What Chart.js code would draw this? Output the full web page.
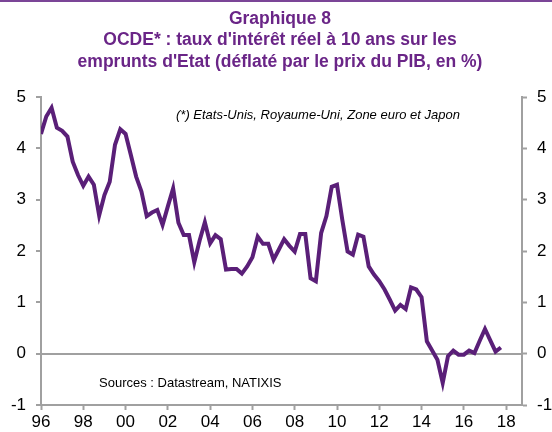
<!DOCTYPE html>
<html>
<head>
<meta charset="utf-8">
<script src="https://cdn.jsdelivr.net/npm/chart.js@4/dist/chart.umd.min.js"></script>
<style>
  html, body { margin: 0; padding: 0; background: #fff; }
  #wrap { width: 552px; height: 432px; }
</style>
</head>
<body>
<div id="wrap"><canvas id="my-chart" width="552" height="432"></canvas></div>
<script>
// quarterly values, first point = 1996 Q1
const startYear = 1996;
const realRate = [
  4.28, 4.62, 4.79, 4.40,
  4.34, 4.23, 3.74, 3.48,
  3.27, 3.45, 3.29, 2.69,
  3.09, 3.35, 4.07, 4.37,
  4.28, 3.87, 3.45, 3.16,
  2.68, 2.75, 2.80, 2.51,
  2.87, 3.22, 2.55, 2.31,
  2.31, 1.78, 2.20, 2.56,
  2.15, 2.31, 2.23, 1.64,
  1.65, 1.65, 1.56, 1.70,
  1.88, 2.28, 2.14, 2.14,
  1.83, 2.03, 2.23, 2.10,
  1.99, 2.33, 2.33, 1.47,
  1.41, 2.35, 2.68, 3.25,
  3.29, 2.61, 1.99, 1.93,
  2.32, 2.28, 1.70, 1.54,
  1.41, 1.25, 1.05, 0.84,
  0.95, 0.87, 1.29, 1.25,
  1.10, 0.24, 0.06, -0.12,
  -0.57, -0.05, 0.06, -0.02,
  -0.02, 0.06, 0.01, 0.25,
  0.48, 0.26, 0.04, 0.12
];
const xTickYears = [1996, 1998, 2000, 2002, 2004, 2006, 2008, 2010, 2012, 2014, 2016, 2018];
const yTicks = [-1, 0, 1, 2, 3, 4, 5];

const titleLines = [
  'Graphique 8',
  "OCDE* : taux d'intérêt réel à 10 ans sur les",
  "emprunts d'Etat (déflaté par le prix du PIB, en %)"
];
const noteText = '(*) Etats-Unis, Royaume-Uni, Zone euro et Japon';
const sourceText = 'Sources : Datastream, NATIXIS';

const points = realRate.map((v, i) => ({ x: startYear + i / 4, y: v }));

const axisGray = '#a0a0a0';
const fontFamily = '"Liberation Sans", Arial, sans-serif';

const textPlugin = {
  id: 'texts',
  beforeDraw(chart) {
    const c = chart.ctx;
    c.save();
    c.fillStyle = '#7b4597';
    c.fillRect(0, 0, chart.width, 2);
    c.restore();
  },
  afterDraw(chart) {
    const c = chart.ctx;
    c.save();
    c.fillStyle = '#6a2587';
    c.font = `bold 17.5px ${fontFamily}`;
    c.textAlign = 'center';
    c.textBaseline = 'middle';
    titleLines.forEach((line, i) => c.fillText(line, 280, 19 + i * 21.5));

    c.fillStyle = '#000';
    c.textAlign = 'left';
    c.font = `italic 13px ${fontFamily}`;
    c.fillText(noteText, 176, 115);
    c.font = `13px ${fontFamily}`;
    c.fillText(sourceText, 99, 383);
    c.restore();
  }
};

const ctx = document.getElementById('my-chart').getContext('2d');

new Chart(ctx, {
  type: 'line',
  data: {
    datasets: [
      {
        data: points,
        borderColor: '#5a1f78',
        borderWidth: 4,
        pointRadius: 0,
        tension: 0,
        yAxisID: 'y',
      },
    ],
  },
  options: {
    responsive: false,
    animation: false,
    devicePixelRatio: 1,
    layout: { padding: { top: 97, left: 0, right: 0, bottom: 0 } },
    plugins: {
      legend: { display: false },
      tooltip: { enabled: false },
      title: { display: false },
    },
    scales: {
      x: {
        type: 'linear',
        min: 1996,
        max: 2018.75,
        afterBuildTicks: (scale) => {
          scale.ticks = xTickYears.map((v) => ({ value: v }));
        },
        afterFit: (scale) => { scale.height = 27; },
        ticks: {
          padding: 2,
          maxRotation: 0,
          autoSkip: false,
          color: '#000',
          font: { size: 17, family: fontFamily },
          callback: (v) => String(v % 100).padStart(2, '0'),
        },
        grid: {
          drawOnChartArea: false,
          drawTicks: true,
          tickLength: 5,
          tickColor: axisGray,
          tickWidth: 2,
        },
        border: { display: true, color: axisGray, width: 2 },
      },
      y: {
        position: 'left',
        min: -1,
        max: 5,
        afterBuildTicks: (scale) => {
          scale.ticks = yTicks.map((v) => ({ value: v }));
        },
        afterFit: (scale) => { scale.width = 41; },
        ticks: {
          padding: 10,
          color: '#000',
          font: { size: 17, family: fontFamily },
        },
        grid: {
          color: (c) => (c.tick && c.tick.value === 0 ? axisGray : 'rgba(0,0,0,0)'),
          lineWidth: 2,
          tickColor: axisGray,
          tickLength: 5,
          tickWidth: 2,
        },
        border: { display: true, color: axisGray, width: 2 },
      },
      y2: {
        position: 'right',
        min: -1,
        max: 5,
        afterBuildTicks: (scale) => {
          scale.ticks = yTicks.map((v) => ({ value: v }));
        },
        afterFit: (scale) => { scale.width = 30; },
        ticks: {
          padding: 10,
          color: '#000',
          font: { size: 17, family: fontFamily },
        },
        grid: {
          drawOnChartArea: false,
          tickColor: axisGray,
          tickLength: 5,
          tickWidth: 2,
        },
        border: { display: true, color: axisGray, width: 2 },
      },
    },
  },
  plugins: [textPlugin],
});
</script>
</body>
</html>
